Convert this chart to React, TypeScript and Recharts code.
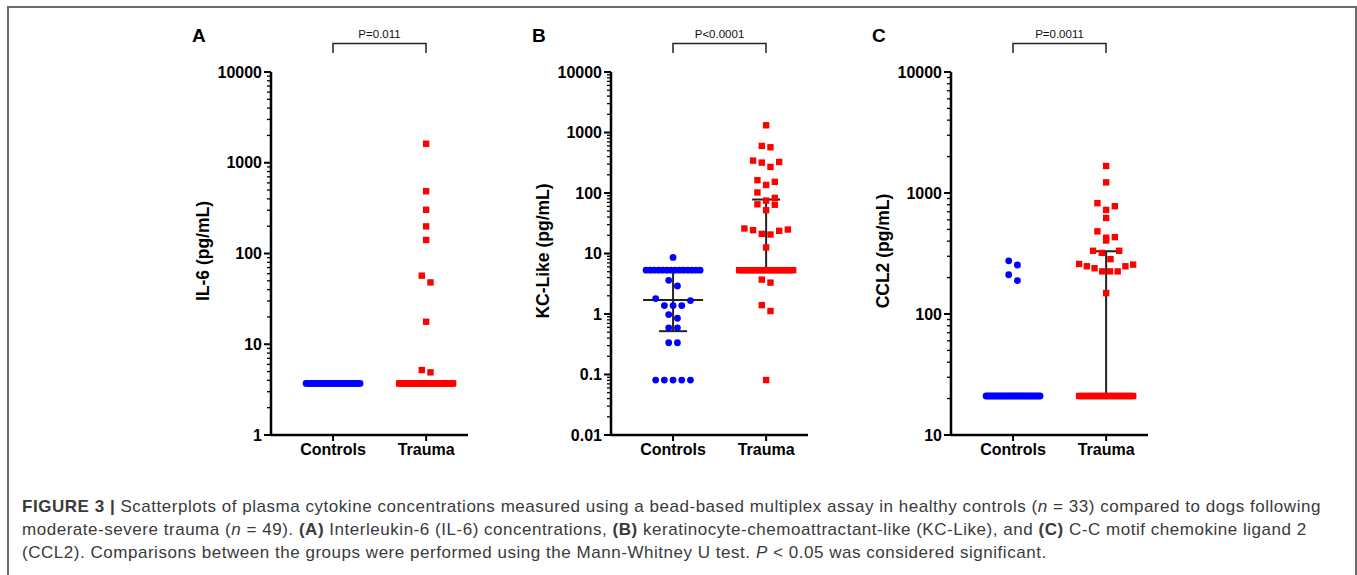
import { ErrorBar, Scatter, ScatterChart, XAxis, YAxis } from 'recharts'

const GROUPS = ['Controls', 'Trauma']

// A: IL-6 (pg/mL)
const IL6_CONTROLS = [
  3.7, 3.7, 3.7, 3.7, 3.7, 3.7, 3.7, 3.7, 3.7, 3.7, 3.7,
  3.7, 3.7, 3.7, 3.7, 3.7, 3.7, 3.7, 3.7, 3.7, 3.7, 3.7,
  3.7, 3.7, 3.7, 3.7, 3.7, 3.7, 3.7, 3.7, 3.7, 3.7, 3.7,
]
const IL6_TRAUMA = [
  1620, 485, 303, 199, 141, 57, 48, 17.7, 5.2, 4.9,
  3.7, 3.7, 3.7, 3.7, 3.7, 3.7, 3.7, 3.7, 3.7, 3.7, 3.7, 3.7, 3.7,
  3.7, 3.7, 3.7, 3.7, 3.7, 3.7, 3.7, 3.7, 3.7, 3.7, 3.7, 3.7, 3.7,
  3.7, 3.7, 3.7, 3.7, 3.7, 3.7, 3.7, 3.7, 3.7, 3.7, 3.7, 3.7, 3.7,
]

// B: KC-Like (pg/mL)
const KC_CONTROLS = [
  8.6,
  5.3, 5.3, 5.3, 5.3, 5.3, 5.3, 5.3, 5.3, 5.3, 5.3, 5.3, 5.3, 5.3, 5.3,
  3.6, 2.9, 1.8, 1.67, 1.38, 1.38, 1.38, 0.98, 0.85, 0.59, 0.59,
  0.335, 0.335, 0.081, 0.081, 0.081, 0.081, 0.081,
]
const KC_TRAUMA = [
  1316, 600, 570, 343, 326, 318, 270, 163, 153, 136, 102, 83, 75, 65, 64, 52,
  25.9, 24.9, 24.3, 23.7, 21.1, 20.6, 12.6,
  5.3, 5.3, 5.3, 5.3, 5.3, 5.3, 5.3, 5.3, 5.3, 5.3, 5.3,
  5.3, 5.3, 5.3, 5.3, 5.3, 5.3, 5.3, 5.3, 5.3, 5.3,
  3.7, 3.3, 1.4, 1.12, 0.081,
]
const KC_MEDIAN = [1.7, 5.3]
const KC_Q1 = [0.52, 5.3]
const KC_Q3 = [5.3, 78]

// C: CCL2 (pg/mL)
const CCL2_CONTROLS = [
  275, 254, 211, 189,
  21, 21, 21, 21, 21, 21, 21, 21, 21, 21, 21, 21, 21, 21, 21,
  21, 21, 21, 21, 21, 21, 21, 21, 21, 21, 21, 21, 21, 21,
]
const CCL2_TRAUMA = [
  1672, 1224, 824, 778, 725, 622, 482, 432, 427, 405, 333, 320, 333, 284,
  256, 248, 225, 225, 225, 239, 248, 259, 149,
  21, 21, 21, 21, 21, 21, 21, 21, 21, 21, 21, 21, 21,
  21, 21, 21, 21, 21, 21, 21, 21, 21, 21, 21, 21, 21,
]
const CCL2_MEDIAN = [21, 21]
const CCL2_Q1 = [21, 21]
const CCL2_Q3 = [21, 330]

const FONT = "'Liberation Sans', Arial, Helvetica, sans-serif"
const BLUE = '#0000ff'
const RED = '#ff0000'

// plot geometry (px), shared by the three panels
const PLOT_W = 197
const PLOT_H = 363
const X_DOMAIN = [0.333, 2.45]
const UNIT_PX = PLOT_W / (X_DOMAIN[1] - X_DOMAIN[0])

// GraphPad-like column scatter: bin by height, spread each row around the centre
const DOT_GAP = 8.7
const MAX_SPREAD = 54
const ROW_TOL = 8.7

function swarm(values: number[], center: number, lo: number, hi: number) {
  const span = Math.log10(hi) - Math.log10(lo)
  const px = (v: number) => ((Math.log10(v) - Math.log10(lo)) / span) * PLOT_H
  const sorted = [...values].sort((a, b) => b - a)
  const rows: number[][] = []
  let start = 0
  sorted.forEach((v) => {
    const row = rows[rows.length - 1]
    if (row && start - px(v) <= ROW_TOL) row.push(v)
    else {
      rows.push([v])
      start = px(v)
    }
  })
  const out: { x: number; y: number }[] = []
  rows.forEach((row) => {
    const asc = [...row].sort((a, b) => a - b)
    const n = asc.length
    const gap = n > 1 ? Math.min(DOT_GAP, MAX_SPREAD / (n - 1)) : 0
    asc.forEach((v, i) => {
      const slot =
        n % 2
          ? i === 0
            ? 0
            : (i % 2 ? 1 : -1) * Math.ceil(i / 2)
          : (i % 2 ? -1 : 1) * (Math.floor(i / 2) + 0.5)
      out.push({ x: center + (slot * gap) / UNIT_PX, y: v })
    })
  })
  return out
}

function logTicks(lo: number, hi: number) {
  const ticks: number[] = []
  for (let d = lo; d < hi * 0.999; d *= 10) {
    for (let k = 1; k < 10; k++) ticks.push(+(d * k).toPrecision(3))
  }
  ticks.push(hi)
  return ticks
}

const LogTick = (props: any) => {
  const { x, y, payload } = props
  const v = payload.value
  const l = Math.log10(v)
  const major = Math.abs(l - Math.round(l)) < 1e-6
  return (
    <g>
      <line
        x1={x}
        x2={x - (major ? 7 : 4)}
        y1={y}
        y2={y}
        stroke="#000"
        strokeWidth={major ? 2 : 1.3}
      />
      {major && (
        <text
          x={x - 9}
          y={y}
          textAnchor="end"
          dominantBaseline="central"
          fontFamily={FONT}
          fontWeight={700}
          fontSize={16}
          fill="#000"
        >
          {String(v)}
        </text>
      )}
    </g>
  )
}

const Dot = (props: any) => (
  <circle cx={props.cx} cy={props.cy} r={3.4} fill={BLUE} />
)
const Square = (props: any) => (
  <rect x={props.cx - 3.2} y={props.cy - 3.2} width={6.4} height={6.4} fill={RED} />
)
const MedianLine = (props: any) => (
  <line
    x1={props.cx - 30}
    x2={props.cx + 30}
    y1={props.cy}
    y2={props.cy}
    stroke="#222"
    strokeWidth={2}
  />
)

interface PanelProps {
  left: number
  lo: number
  hi: number
  controls: number[]
  trauma: number[]
  median?: number[]
  q1?: number[]
  q3?: number[]
}

function Panel({ left, lo, hi, controls, trauma, median, q1, q3 }: PanelProps) {
  const summary = median
    ? median.map((m, i) => ({
        x: i + 1,
        y: m,
        iqr: [m - q1![i], q3![i] - m],
      }))
    : []
  return (
    <div style={{ position: 'absolute', left, top: 20 }}>
      <ScatterChart
        width={290}
        height={450}
        margin={{ top: 52, right: 12, bottom: 5, left: 21 }}
      >
        <XAxis
          type="number"
          dataKey="x"
          domain={X_DOMAIN}
          ticks={[1, 2]}
          interval={0}
          allowDataOverflow
          tickFormatter={(v: number) => GROUPS[v - 1]}
          height={30}
          tickSize={6}
          tickMargin={3}
          axisLine={{ stroke: '#000', strokeWidth: 2.5 }}
          tickLine={{ stroke: '#000', strokeWidth: 2 }}
          tick={{ fill: '#000', fontSize: 16, fontWeight: 700, fontFamily: FONT }}
        />
        <YAxis
          type="number"
          dataKey="y"
          scale="log"
          domain={[lo, hi]}
          ticks={logTicks(lo, hi)}
          interval={0}
          allowDataOverflow
          width={60}
          tickSize={0}
          tickMargin={0}
          tickLine={false}
          axisLine={{ stroke: '#000', strokeWidth: 2.5 }}
          tick={<LogTick />}
        />
        {summary.length > 0 && (
          <Scatter data={summary} shape={<MedianLine />} isAnimationActive={false}>
            <ErrorBar
              dataKey="iqr"
              direction="y"
              width={14}
              stroke="#222"
              strokeWidth={2}
            />
          </Scatter>
        )}
        <Scatter
          data={swarm(controls, 1, lo, hi)}
          shape={<Dot />}
          isAnimationActive={false}
        />
        <Scatter
          data={swarm(trauma, 2, lo, hi)}
          shape={<Square />}
          isAnimationActive={false}
        />
      </ScatterChart>
    </div>
  )
}

const PANELS = [
  { letter: 'A', label: 'IL-6 (pg/mL)', p: 'P=0.011' },
  { letter: 'B', label: 'KC-Like (pg/mL)', p: 'P<0.0001' },
  { letter: 'C', label: 'CCL2 (pg/mL)', p: 'P=0.0011' },
]

export default function App() {
  return (
    <div
      style={{
        position: 'absolute',
        left: 0,
        top: 0,
        width: 1357,
        height: 575,
        overflow: 'hidden',
        background: '#fff',
        fontFamily: FONT,
      }}
    >
      <div
        style={{
          position: 'absolute',
          left: 7,
          top: 6,
          width: 1350,
          height: 620,
          boxSizing: 'border-box',
          border: '2px solid #6a6a6a',
        }}
      />
      <Panel left={190} lo={1} hi={10000} controls={IL6_CONTROLS} trauma={IL6_TRAUMA} />
      <Panel
        left={530}
        lo={0.01}
        hi={10000}
        controls={KC_CONTROLS}
        trauma={KC_TRAUMA}
        median={KC_MEDIAN}
        q1={KC_Q1}
        q3={KC_Q3}
      />
      <Panel
        left={870}
        lo={10}
        hi={10000}
        controls={CCL2_CONTROLS}
        trauma={CCL2_TRAUMA}
        median={CCL2_MEDIAN}
        q1={CCL2_Q1}
        q3={CCL2_Q3}
      />
      <svg
        width={1357}
        height={575}
        style={{ position: 'absolute', left: 0, top: 0, pointerEvents: 'none' }}
      >
        {PANELS.map((p, i) => {
          const off = i * 340
          const c1 = 333 + off
          const c2 = 426 + off
          return (
            <g key={p.letter} fontFamily={FONT}>
              <text x={192 + off} y={42} fontSize={19} fontWeight={700} fill="#000">
                {p.letter}
              </text>
              <text
                x={(c1 + c2) / 2}
                y={38}
                fontSize={11.5}
                textAnchor="middle"
                fill="#111"
              >
                {p.p}
              </text>
              <path
                d={`M${c1},53 V43.5 H${c2} V53`}
                fill="none"
                stroke="#222"
                strokeWidth={1.5}
              />
              <text
                transform={`translate(${209 + off},251) rotate(-90)`}
                textAnchor="middle"
                fontSize={17.5}
                fontWeight={700}
                fill="#000"
              >
                {p.label}
              </text>
            </g>
          )
        })}
      </svg>
      <div
        style={{
          position: 'absolute',
          left: 22,
          top: 495,
          fontSize: 17,
          letterSpacing: 0.53,
          lineHeight: '23px',
          color: '#3a3a3a',
          whiteSpace: 'nowrap',
        }}
      >
        <div>
          <b>FIGURE 3 |</b> Scatterplots of plasma cytokine concentrations measured
          using a bead-based multiplex assay in healthy controls (<i>n</i> = 33)
          compared to dogs following
        </div>
        <div>
          moderate-severe trauma (<i>n</i> = 49). <b>(A)</b> Interleukin-6 (IL-6)
          concentrations, <b>(B)</b> keratinocyte-chemoattractant-like (KC-Like),
          and <b>(C)</b> C-C motif chemokine ligand 2
        </div>
        <div>
          (CCL2). Comparisons between the groups were performed using the
          Mann-Whitney U test. <i>P</i> &lt; 0.05 was considered significant.
        </div>
      </div>
    </div>
  )
}
